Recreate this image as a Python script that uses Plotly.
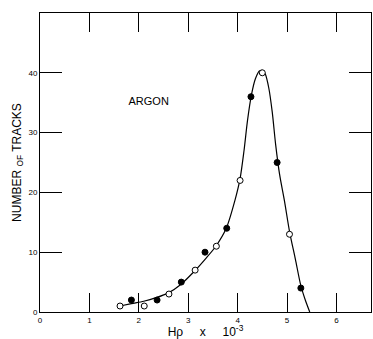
import plotly.graph_objects as go

# Open-circle data points
open_x = [1.62, 2.11, 2.61, 3.14, 3.57, 4.05, 4.50, 5.05]
open_y = [1, 1, 3, 7, 11, 22, 40, 13]

# Filled-circle data points
filled_x = [1.85, 2.37, 2.86, 3.34, 3.78, 4.27, 4.80, 5.28]
filled_y = [2, 2, 5, 10, 14, 36, 25, 4]

# Smooth curve drawn through the data
curve_x = [1.62, 1.85, 2.1, 2.35, 2.6, 2.85, 3.1, 3.35, 3.56, 3.77, 3.95, 4.05,
           4.13, 4.2, 4.28, 4.36, 4.44, 4.5, 4.56, 4.63, 4.7, 4.77, 4.85, 4.95,
           5.05, 5.17, 5.28, 5.37, 5.46]
curve_y = [1.0, 1.4, 1.8, 2.4, 3.2, 4.6, 6.6, 8.9, 11.0, 14.0, 18.8, 22.3,
           27.0, 32.0, 36.3, 39.0, 40.3, 40.4, 39.8, 37.5, 33.5, 28.0, 23.0, 18.5,
           13.5, 8.8, 4.4, 2.0, 0.0]

x_ticks = [0, 1, 2, 3, 4, 5, 6]
y_ticks = [0, 10, 20, 30, 40]
x_range = [0, 6.7]
y_range = [0, 50]

label_text = ["ARGON"]
label_x = [2.2]
label_y = [35.1]

FONT = "Liberation Sans, Arial, sans-serif"

fig = go.Figure()
fig.add_trace(go.Scatter(x=curve_x, y=curve_y, mode="lines",
                         line=dict(color="black", width=1.2, shape="spline", smoothing=0.8),
                         hoverinfo="skip", showlegend=False))
fig.add_trace(go.Scatter(x=open_x, y=open_y, mode="markers",
                         marker=dict(symbol="circle", size=6, color="white",
                                     line=dict(color="black", width=1)),
                         showlegend=False))
fig.add_trace(go.Scatter(x=filled_x, y=filled_y, mode="markers",
                         marker=dict(symbol="circle", size=6, color="black",
                                     line=dict(color="black", width=1)),
                         showlegend=False))
fig.add_trace(go.Scatter(x=label_x, y=label_y, mode="text", text=label_text,
                         textposition="middle center",
                         textfont=dict(size=11, family=FONT, color="black"),
                         hoverinfo="skip", showlegend=False))

fig.update_xaxes(range=x_range, tickvals=x_ticks, ticks="inside", ticklen=19,
                 tickcolor="black", tickwidth=1, showline=True, linecolor="black",
                 mirror="ticks", showgrid=False, zeroline=False,
                 tickfont=dict(size=8, color="black"),
                 title=dict(text="H\u03c1\u00a0\u00a0\u00a0\u00a0 x \u00a0\u00a0\u00a0 10<sup>-3</sup>",
                            font=dict(size=12, color="black"), standoff=2))
fig.update_yaxes(range=y_range, tickvals=y_ticks, ticks="inside", ticklen=22,
                 tickcolor="black", tickwidth=1, showline=True, linecolor="black",
                 mirror="ticks", showgrid=False, zeroline=False,
                 tickfont=dict(size=8, color="black"),
                 title=dict(text="NUMBER <sub>OF</sub> TRACKS",
                            font=dict(size=12, color="black"), standoff=4))

fig.update_layout(
    width=373, height=339,
    margin=dict(l=40, r=2, t=13, b=27, autoexpand=False),
    paper_bgcolor="white", plot_bgcolor="white",
    font=dict(family=FONT, color="black"),
)

fig.write_html("out.html")
